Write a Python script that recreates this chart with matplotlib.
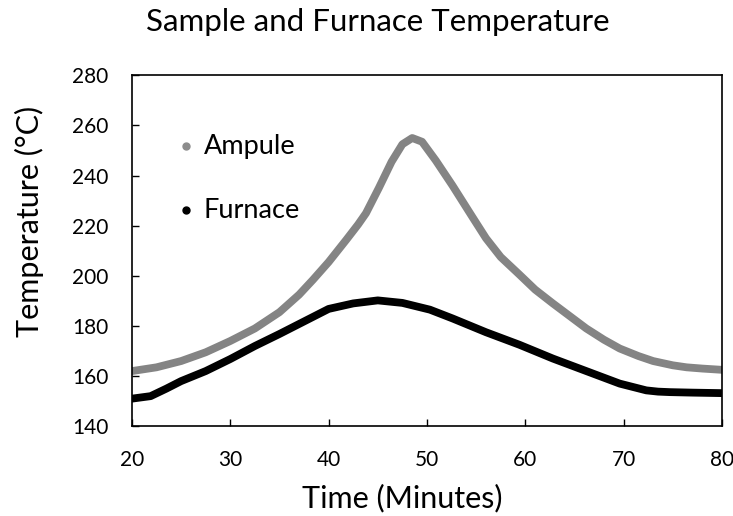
import matplotlib
matplotlib.use("Agg")
import matplotlib.pyplot as plt

plt.rcParams.update({
    "font.family": ["Lato", "DejaVu Sans"],
    "xtick.direction": "in",
    "ytick.direction": "in",
    "axes.linewidth": 1.2,
})

GRAY = "#848484"
BLACK = "#000000"

# ── data ────────────────────────────────────────────────────
ampule_t = [20, 22.5, 25, 27.5, 30, 32.5, 35, 37, 38.4, 40, 41.8, 43,
            43.8, 45.1, 46.4, 47.5, 48.5, 49.5, 50.9, 52.6, 54.6, 56,
            57.5, 59.4, 61, 62.8, 64.5, 66.2, 68, 69.6, 71.5, 73, 75,
            76.4, 78, 80]
ampule_T = [162, 163.5, 166, 169.5, 174, 179, 185.5, 192.5, 198.4,
            205.5, 214.4, 220.5, 225, 235, 245.5, 252.5, 255, 253.5,
            246, 236, 223.6, 215, 207.5, 200.5, 194.5, 189, 184, 179,
            174.5, 171, 168, 166, 164.3, 163.5, 163, 162.5]

furnace_t = [20, 21.9, 23.5, 25, 27.5, 30, 32.5, 35, 38.4, 40, 42.5,
             45, 47.5, 50.3, 52.6, 56, 59.4, 62.8, 66.2, 69.6, 72.3,
             73.5, 74.7, 77, 80]
furnace_T = [151, 152, 155, 158, 162, 166.8, 172, 176.8, 183.6, 186.8,
             189, 190.2, 189.2, 186.5, 183, 177.5, 172.5, 167, 162, 157,
             154.3, 153.8, 153.6, 153.4, 153.2]

fig = plt.figure(figsize=(7.33, 5.16), dpi=100)
ax = fig.add_axes([0.180, 0.174, 0.805, 0.680])

ax.plot(ampule_t, ampule_T, color=GRAY, linewidth=5.6,
        solid_capstyle="round", solid_joinstyle="round")
ax.plot(furnace_t, furnace_T, color=BLACK, linewidth=5.6,
        solid_capstyle="round", solid_joinstyle="round")

ax.set_xlim(20, 80)
ax.set_ylim(140, 280)
ax.set_xticks(range(20, 81, 10))
ax.set_yticks(range(140, 281, 20))
ax.tick_params(labelsize=15, length=5, width=1)
ax.tick_params(axis="x", pad=17)
ax.tick_params(axis="y", pad=17)

ax.set_xlabel("Time (Minutes)", fontsize=22, labelpad=10)
ax.set_ylabel("Temperature (°C)", fontsize=22, labelpad=20)
# axis titles sit a bit off-centre in the original
ax.xaxis.label.set_x(0.458)
ax.yaxis.label.set_y(0.584)
fig.text(0.515, 0.957, "Sample and Furnace Temperature", fontsize=22.5,
         ha="center", va="center")

# legend drawn as dots + text like the original
ax.plot([0.092], [0.798], "o", color="#8c8c8c", markersize=5,
        transform=ax.transAxes)
ax.text(0.122, 0.798, "Ampule", fontsize=19.5, va="center",
        transform=ax.transAxes)
ax.plot([0.092], [0.615], "o", color=BLACK, markersize=5,
        transform=ax.transAxes)
ax.text(0.122, 0.615, "Furnace", fontsize=19.5, va="center",
        transform=ax.transAxes)

fig.savefig("out.png", dpi=100, facecolor="white")
